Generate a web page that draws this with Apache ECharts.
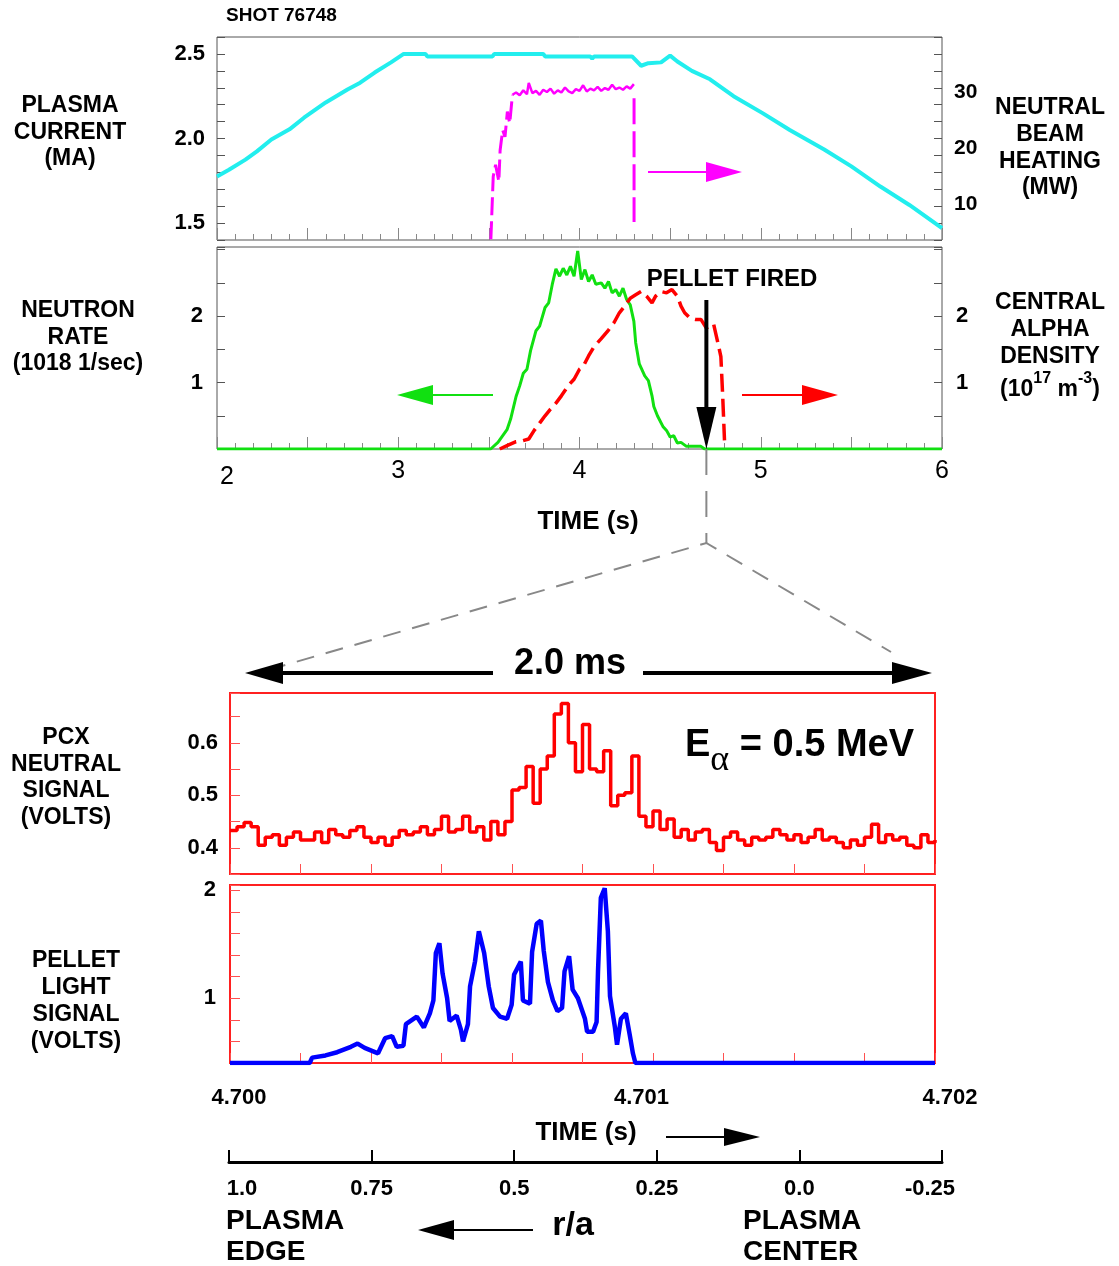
<!DOCTYPE html>
<html>
<head>
<meta charset="utf-8">
<title>Shot 76748</title>
<script src="https://cdn.jsdelivr.net/npm/echarts@6.0.0/dist/echarts.min.js"></script>
<style>
  html, body { margin: 0; padding: 0; background: #fff; }
  #chart { width: 1119px; height: 1266px; }
</style>
</head>
<body>
<div id="chart"></div>
<script>
// ---------- data ----------
// plasma current (MA) vs time (s)
const currentT  = [2.00, 2.066, 2.157, 2.22, 2.30, 2.40, 2.48, 2.60, 2.72, 2.79, 2.87, 2.96, 3.03, 3.15, 3.16, 3.52, 3.53, 3.80, 3.81, 4.06, 4.07, 4.08, 4.29, 4.34, 4.38, 4.45, 4.50, 4.54, 4.62, 4.72, 4.85, 5.01, 5.16, 5.35, 5.50, 5.66, 5.82, 6.00];
const currentMA = [1.776, 1.815, 1.875, 1.924, 1.994, 2.054, 2.123, 2.213, 2.29, 2.33, 2.39, 2.45, 2.50, 2.50, 2.485, 2.485, 2.50, 2.50, 2.485, 2.485, 2.472, 2.485, 2.485, 2.43, 2.445, 2.45, 2.49, 2.455, 2.40, 2.35, 2.25, 2.15, 2.05, 1.935, 1.835, 1.716, 1.607, 1.47];

// neutral beam heating (MW): turn-on, flat top, turn-off
const nbiRiseT = [3.511, 3.524, 3.537, 3.555, 3.562, 3.576, 3.589, 3.602, 3.615, 3.63];
const nbiRiseP = [3.7, 14.9, 17.0, 14.0, 19.6, 23.2, 22.0, 26.5, 24.4, 29.5];
const nbiFlatT = [3.63, 3.65, 3.67, 3.69, 3.71, 3.72, 3.74, 3.76, 3.78, 3.80, 3.82, 3.84, 3.86, 3.88, 3.90, 3.92, 3.94, 3.96, 3.98, 4.00, 4.02, 4.04, 4.06, 4.08, 4.10, 4.12, 4.14, 4.16, 4.18, 4.20, 4.22, 4.24, 4.26, 4.28, 4.30];
const nbiFlatP = [29.5, 29.9, 29.4, 30.3, 29.6, 31.6, 29.8, 30.2, 29.5, 30.4, 30.0, 30.6, 29.7, 30.3, 29.9, 30.8, 30.1, 29.8, 30.5, 30.2, 31.2, 30.1, 30.6, 30.3, 30.9, 30.2, 30.7, 30.4, 31.3, 30.5, 30.8, 30.4, 31.0, 30.6, 31.4];
const nbiFallT = [4.301, 4.301];
const nbiFallP = [28.9, 6.8];

// neutron rate (1e18 /s)
const neutronT = [2.00, 3.51, 3.55, 3.60, 3.62, 3.65, 3.67, 3.69, 3.71, 3.73, 3.76, 3.78, 3.81, 3.83, 3.85, 3.87, 3.89, 3.91, 3.93, 3.95, 3.97, 3.99, 4.01, 4.03, 4.05, 4.07, 4.09, 4.12, 4.14, 4.16, 4.18, 4.20, 4.22, 4.24, 4.26, 4.28, 4.30, 4.31, 4.33, 4.36, 4.38, 4.40, 4.41, 4.43, 4.46, 4.48, 4.50, 4.52, 4.54, 4.56, 4.59, 4.67, 4.69, 6.00];
const neutronR = [0, 0, 0.10, 0.29, 0.45, 0.79, 0.95, 1.14, 1.20, 1.48, 1.78, 1.85, 2.13, 2.20, 2.48, 2.71, 2.60, 2.72, 2.62, 2.75, 2.60, 2.98, 2.55, 2.70, 2.52, 2.62, 2.48, 2.50, 2.42, 2.52, 2.35, 2.40, 2.30, 2.42, 2.25, 2.17, 1.92, 1.60, 1.28, 1.10, 1.03, 0.80, 0.64, 0.50, 0.34, 0.28, 0.18, 0.20, 0.09, 0.10, 0.04, 0.04, 0, 0];

// central alpha density (1e17 m^-3)
const alphaT = [3.56, 3.60, 3.65, 3.68, 3.72, 3.75, 3.78, 3.81, 3.84, 3.87, 3.90, 3.94, 3.97, 4.00, 4.02, 4.05, 4.08, 4.12, 4.16, 4.19, 4.22, 4.25, 4.28, 4.31, 4.34, 4.37, 4.40, 4.42, 4.45, 4.48, 4.51, 4.54, 4.56, 4.58, 4.61, 4.64, 4.67, 4.70, 4.72, 4.74, 4.76, 4.78, 4.79, 4.80];
const alphaN = [0, 0.05, 0.11, 0.12, 0.15, 0.28, 0.39, 0.50, 0.60, 0.69, 0.80, 0.96, 1.05, 1.20, 1.24, 1.40, 1.54, 1.66, 1.79, 1.90, 2.05, 2.15, 2.27, 2.32, 2.37, 2.30, 2.20, 2.30, 2.37, 2.35, 2.40, 2.30, 2.15, 2.05, 1.97, 1.95, 1.95, 1.82, 1.86, 1.88, 1.64, 1.39, 0.80, 0.13];

const pelletTime = 4.70;   // s, pellet fired

// PCX neutral signal (V), sampled every 0.02 ms from 4.700 s
const pcxStartS = 4.700;
const pcxStepS = 0.00002;
const pcxVolts = [
  0.433, 0.44, 0.448, 0.44, 0.405, 0.42, 0.425, 0.405, 0.42, 0.43,
  0.415, 0.415, 0.43, 0.41, 0.435, 0.425, 0.42, 0.433, 0.44, 0.42,
  0.41, 0.42, 0.405, 0.42, 0.433, 0.425, 0.43, 0.44, 0.425, 0.435,
  0.46, 0.43, 0.435, 0.46, 0.43, 0.44, 0.415, 0.45, 0.425, 0.45,
  0.51, 0.515, 0.555, 0.485, 0.55, 0.575, 0.655, 0.675, 0.6, 0.545,
  0.635, 0.55, 0.545, 0.585, 0.48, 0.5, 0.505, 0.575, 0.46, 0.44,
  0.47, 0.435, 0.455, 0.42, 0.435, 0.415, 0.43, 0.435, 0.41, 0.395,
  0.42, 0.43, 0.415, 0.405, 0.42, 0.415, 0.42, 0.435, 0.425, 0.415,
  0.425, 0.41, 0.42, 0.435, 0.415, 0.42, 0.41, 0.40, 0.415, 0.405,
  0.42, 0.445, 0.41, 0.425, 0.415, 0.42, 0.405, 0.40, 0.425, 0.41,
  0.415
];

// pellet light signal (V) vs ms after 4.700 s
const pelletMs = [0, 0.226, 0.233, 0.271, 0.304, 0.343, 0.362, 0.382, 0.420, 0.440, 0.460, 0.473, 0.492, 0.499, 0.530, 0.550, 0.567, 0.577, 0.584, 0.594, 0.603, 0.616, 0.623, 0.643, 0.655, 0.661, 0.675, 0.681, 0.695, 0.706, 0.721, 0.734, 0.746, 0.766, 0.786, 0.799, 0.806, 0.825, 0.831, 0.851, 0.857, 0.870, 0.882, 0.890, 0.902, 0.916, 0.929, 0.942, 0.949, 0.962, 0.972, 0.987, 1.007, 1.013, 1.030, 1.040, 1.044, 1.052, 1.063, 1.072, 1.078, 1.092, 1.098, 1.109, 1.123, 1.134, 1.143, 1.150, 2.0];
const pelletV  = [0.40, 0.40, 0.45, 0.47, 0.50, 0.55, 0.58, 0.54, 0.49, 0.63, 0.65, 0.55, 0.56, 0.76, 0.83, 0.73, 0.86, 0.98, 1.42, 1.51, 1.23, 1.00, 0.79, 0.84, 0.71, 0.60, 0.76, 1.11, 1.34, 1.62, 1.42, 1.11, 0.91, 0.83, 0.81, 0.94, 1.22, 1.34, 0.98, 0.95, 1.43, 1.69, 1.72, 1.44, 1.15, 0.98, 0.88, 0.91, 1.25, 1.39, 1.08, 1.00, 0.81, 0.69, 0.69, 0.78, 1.25, 1.93, 2.02, 1.62, 1.02, 0.73, 0.57, 0.81, 0.86, 0.66, 0.49, 0.40, 0.40];

// tick labels
const currentLabels = [1.5, 2.0, 2.5];
const nbiLabels = [10, 20, 30];
const rateLabels = [1, 2];
const timeLabels = [2, 3, 4, 5, 6];
const pcxLabels = [0.4, 0.5, 0.6];
const lightLabels = [1, 2];
const fineTimeLabels = [4.700, 4.701, 4.702];
const rhoLabels = [1.0, 0.75, 0.5, 0.25, 0.0, -0.25];

// ---------- chart ----------
const FONT = '"Liberation Sans", Arial, sans-serif';
const chart = echarts.init(document.getElementById('chart'));

function pick(list, digits) {
  return function (v) {
    const hit = list.find(L => Math.abs(L - v) < 1e-7);
    return hit === undefined ? '' : hit.toFixed(digits);
  };
}
function pairs(xs, ys) { return xs.map((x, i) => [x, ys[i]]); }
function lbl(size, extra) {
  return Object.assign({ fontFamily: FONT, fontWeight: 'bold', fontSize: size, color: '#000' }, extra || {});
}

const grayTick = { show: true, inside: true, length: 8, lineStyle: { color: '#555', width: 1 } };
const redTick = { show: true, inside: true, length: 10, lineStyle: { color: '#ff5050', width: 1 } };
const off = { show: false };

const pcxData = pcxVolts.map((v, i) => [pcxStartS + i * pcxStepS, v]);
const pelletData = pelletMs.map((m, i) => [4.7 + m / 1000, pelletV[i]]);

chart.setOption({
  animation: false,
  grid: [
    { left: 217, top: 37, width: 725, height: 203, show: true, borderColor: '#555', borderWidth: 1, outerBoundsMode: 'none' },
    { left: 217, top: 247, width: 725, height: 202, show: true, borderColor: '#555', borderWidth: 1, outerBoundsMode: 'none' },
    { left: 230, top: 693, width: 705, height: 181, show: true, borderColor: '#ff2020', borderWidth: 2, outerBoundsMode: 'none' },
    { left: 230, top: 885, width: 705, height: 178, show: true, borderColor: '#ff2020', borderWidth: 2, outerBoundsMode: 'none' },
    { left: 229, top: 1100, width: 713, height: 62, outerBoundsMode: 'none' }
  ],
  xAxis: [
    { gridIndex: 0, type: 'value', min: 2, max: 6, interval: 0.5, axisLine: off, splitLine: off,
      axisTick: { show: true, inside: true, length: 12, lineStyle: { color: '#888' } },
      minorTick: { show: true, splitNumber: 5, length: 6, lineStyle: { color: '#888' } },
      axisLabel: off },
    { gridIndex: 1, type: 'value', min: 2, max: 6, interval: 0.5, axisLine: off, splitLine: off,
      axisTick: { show: true, inside: true, length: 12, lineStyle: { color: '#888' } },
      minorTick: { show: true, splitNumber: 5, length: 6, lineStyle: { color: '#888' } },
      axisLabel: { fontFamily: FONT, fontSize: 25, color: '#000', margin: 10, showMinLabel: true, showMaxLabel: true,
        formatter: function (v) {
          const hit = timeLabels.find(L => Math.abs(L - v) < 1e-7);
          if (hit === undefined) return '';
          return hit === 2 ? '{f|2}' : String(hit);
        },
        rich: { f: { fontFamily: FONT, fontSize: 25, color: '#000', padding: [6, 0, 0, 20] } } } },
    { gridIndex: 2, type: 'value', min: 4.7, max: 4.702, interval: 0.0002, axisLine: off, splitLine: off,
      axisTick: redTick, axisLabel: off },
    { gridIndex: 3, type: 'value', min: 4.7, max: 4.702, interval: 0.0002, axisLine: off, splitLine: off,
      axisTick: redTick,
      axisLabel: { margin: 24, showMinLabel: true, showMaxLabel: true,
        formatter: function (v) {
          const k = fineTimeLabels.findIndex(L => Math.abs(L - v) < 1e-7);
          return k < 0 ? '' : '{s' + k + '|' + fineTimeLabels[k].toFixed(3) + '}';
        },
        rich: {
          s0: lbl(22, { padding: [0, 0, 0, 18] }),
          s1: lbl(22, { padding: [0, 0, 0, 118] }),
          s2: lbl(22, { padding: [0, 0, 0, 30] })
        } } },
    { gridIndex: 4, type: 'value', min: -0.25, max: 1.0, interval: 0.25, inverse: true, splitLine: off,
      axisLine: { show: true, lineStyle: { color: '#000', width: 3 } },
      axisTick: { show: true, inside: true, length: 12, lineStyle: { color: '#000', width: 2 } },
      axisLabel: { margin: 16, showMinLabel: true, showMaxLabel: true,
        formatter: function (v) {
          const hit = rhoLabels.find(L => Math.abs(L - v) < 1e-7);
          if (hit === undefined) return '';
          if (hit === 1) return '{l|1.0}';
          if (hit === -0.25) return '{r|-0.25}';
          return '{n|' + (hit === 0 ? '0.0' : String(hit)) + '}';
        },
        rich: {
          n: lbl(22),
          l: lbl(22, { padding: [0, 0, 0, 26] }),
          r: lbl(22, { padding: [0, 24, 0, 0] })
        } } }
  ],
  yAxis: [
    { gridIndex: 0, type: 'value', min: 1.4, max: 2.6, interval: 0.1, axisLine: off, splitLine: off,
      axisTick: grayTick, axisLabel: lbl(22, { margin: 12, formatter: pick(currentLabels, 1) }) },
    { gridIndex: 0, type: 'value', position: 'right', min: 3.57, max: 39.82, axisLine: off, splitLine: off,
      axisTick: off, axisLabel: lbl(21, { margin: 12, customValues: nbiLabels }) },
    { gridIndex: 0, type: 'value', position: 'right', min: 1.4, max: 2.6, interval: 0.1, axisLine: off, splitLine: off,
      axisTick: grayTick, axisLabel: off },
    { gridIndex: 1, type: 'value', min: 0, max: 3.04, interval: 0.5, axisLine: off, splitLine: off,
      axisTick: grayTick, axisLabel: lbl(22, { margin: 14, formatter: pick(rateLabels, 0) }) },
    { gridIndex: 1, type: 'value', position: 'right', min: 0, max: 3.04, interval: 0.5, axisLine: off, splitLine: off,
      axisTick: grayTick, axisLabel: lbl(22, { margin: 14, formatter: pick(rateLabels, 0) }) },
    { gridIndex: 2, type: 'value', min: 0.35, max: 0.695, interval: 0.05, axisLine: off, splitLine: off,
      axisTick: redTick, axisLabel: lbl(22, { margin: 12, formatter: pick(pcxLabels, 1) }) },
    { gridIndex: 3, type: 'value', min: 0.4, max: 2.05, interval: 0.2, axisLine: off, splitLine: off,
      axisTick: redTick, axisLabel: lbl(22, { margin: 14, formatter: pick(lightLabels, 0) }) },
    { gridIndex: 4, type: 'value', show: false, min: 0, max: 1 }
  ],
  series: [
    { name: 'Plasma current', type: 'line', xAxisIndex: 0, yAxisIndex: 0, showSymbol: false,
      lineStyle: { color: '#22eeee', width: 4 }, data: pairs(currentT, currentMA) },
    { name: 'NBI rise', type: 'line', xAxisIndex: 0, yAxisIndex: 1, showSymbol: false,
      lineStyle: { color: '#ff00ff', width: 3, type: [18, 6] }, data: pairs(nbiRiseT, nbiRiseP) },
    { name: 'NBI flat', type: 'line', xAxisIndex: 0, yAxisIndex: 1, showSymbol: false,
      lineStyle: { color: '#ff00ff', width: 2.5 }, data: pairs(nbiFlatT, nbiFlatP) },
    { name: 'NBI off', type: 'line', xAxisIndex: 0, yAxisIndex: 1, showSymbol: false,
      lineStyle: { color: '#ff00ff', width: 3, type: [26, 7] }, data: pairs(nbiFallT, nbiFallP) },
    { name: 'Neutron rate', type: 'line', xAxisIndex: 1, yAxisIndex: 3, showSymbol: false,
      lineStyle: { color: '#11e011', width: 3 }, data: pairs(neutronT, neutronR) },
    { name: 'Alpha density', type: 'line', xAxisIndex: 1, yAxisIndex: 4, showSymbol: false,
      lineStyle: { color: '#ff0000', width: 3.5, type: [18, 7] }, data: pairs(alphaT, alphaN) },
    { name: 'PCX neutral', type: 'line', xAxisIndex: 2, yAxisIndex: 5, showSymbol: false, step: 'end',
      lineStyle: { color: '#ff0000', width: 3.5 }, data: pcxData },
    { name: 'Pellet light', type: 'line', xAxisIndex: 3, yAxisIndex: 6, showSymbol: false,
      lineStyle: { color: '#0000ff', width: 4.5 }, data: pelletData }
  ]
});

// ---------- annotations ----------
function arrow(x1, y1, x2, y2, color, w, hl, hw) {
  const len = Math.hypot(x2 - x1, y2 - y1), ux = (x2 - x1) / len, uy = (y2 - y1) / len;
  const bx = x2 - ux * hl, by = y2 - uy * hl, nx = -uy, ny = ux;
  return [
    { type: 'line', z: 100, shape: { x1: x1, y1: y1, x2: bx, y2: by }, style: { stroke: color, lineWidth: w } },
    { type: 'polygon', z: 100, shape: { points: [[x2, y2], [bx + nx * hw, by + ny * hw], [bx - nx * hw, by - ny * hw]] },
      style: { fill: color } }
  ];
}
function txt(text, x, y, size, align, lh) {
  return { type: 'text', z: 100, x: x, y: y,
    style: { text: text, fill: '#000', font: 'bold ' + size + 'px ' + FONT,
      textAlign: align || 'center', textVerticalAlign: 'middle', lineHeight: lh || size } };
}

const pel = chart.convertToPixel({ gridIndex: 1 }, [pelletTime, 0]);
const px = pel[0], py = pel[1];
const apexY = 543;

const g = [].concat(
  txt('SHOT 76748', 226, 16, 19, 'left'),
  txt('PLASMA\nCURRENT\n(MA)', 70, 132.5, 23, 'center', 26.5),
  txt('NEUTRAL\nBEAM\nHEATING\n(MW)', 1050, 148, 23, 'center', 26.7),
  txt('NEUTRON\nRATE\n(1018 1/sec)', 78, 337.5, 23, 'center', 26.5),
  txt('CENTRAL\nALPHA\nDENSITY', 1050, 329.5, 23, 'center', 26.7),
  { type: 'text', z: 100, x: 1050, y: 386,
    style: { text: '{b|(10}{s|17}{b| m}{s|-3}{b|)}', textAlign: 'center', textVerticalAlign: 'middle',
      rich: {
        b: { fontFamily: FONT, fontWeight: 'bold', fontSize: 23, lineHeight: 30, verticalAlign: 'bottom', fill: '#000' },
        s: { fontFamily: FONT, fontWeight: 'bold', fontSize: 16, lineHeight: 30, verticalAlign: 'top', fill: '#000' }
      } } },
  txt('PCX\nNEUTRAL\nSIGNAL\n(VOLTS)', 66, 777.8, 23, 'center', 26.5),
  txt('PELLET\nLIGHT\nSIGNAL\n(VOLTS)', 76, 1001.5, 23, 'center', 27),
  arrow(648, 172, 742, 172, '#ff00ff', 2, 36, 10),
  arrow(493, 395, 397, 395, '#11e011', 2, 36, 10),
  arrow(742, 395, 838, 395, '#ff0000', 2, 36, 10),
  txt('PELLET FIRED', 732, 279, 24),
  arrow(px, 300, px, py, '#000', 4, 42, 10),
  txt('TIME (s)', 588, 522, 26),
  [{ type: 'polyline', z: 90, shape: { points: [[px, py], [px, apexY]] },
     style: { stroke: '#888', lineWidth: 2, lineDash: [26, 16], fill: null } },
   { type: 'polyline', z: 90, shape: { points: [[268, 670], [px, apexY], [891, 652]] },
     style: { stroke: '#888', lineWidth: 2, lineDash: [18, 12], fill: null } }],
  arrow(493, 673, 245, 673, '#000', 4, 38, 11),
  arrow(643, 673, 932, 673, '#000', 4, 40, 11),
  txt('2.0 ms', 570, 664, 36),
  { type: 'text', z: 100, x: 685, y: 753,
    style: { text: '{b|E}{a|α}{b| = 0.5 MeV}', textAlign: 'left', textVerticalAlign: 'middle',
      rich: {
        b: { fontFamily: FONT, fontWeight: 'bold', fontSize: 38, lineHeight: 38, verticalAlign: 'top', fill: '#000' },
        a: { fontFamily: '"Liberation Serif", serif', fontSize: 36, lineHeight: 52, verticalAlign: 'bottom', fill: '#000' }
      } } },
  txt('TIME (s)', 586, 1133, 26),
  arrow(666, 1137, 760, 1137, '#000', 2, 36, 9),
  txt('PLASMA\nEDGE', 226, 1236.5, 28, 'left', 31),
  txt('PLASMA\nCENTER', 743, 1236.5, 28, 'left', 31),
  txt('r/a', 573, 1226, 34),
  arrow(533, 1230, 418, 1230, '#000', 2, 36, 10)
);

chart.setOption({ graphic: g });
</script>
</body>
</html>
